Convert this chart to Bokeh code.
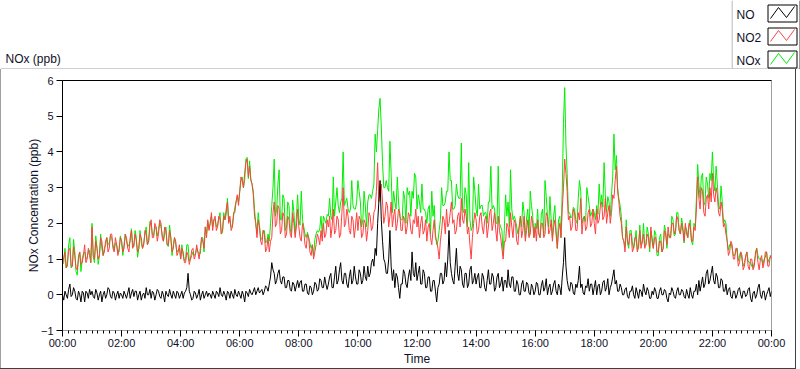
from bokeh.plotting import figure
from bokeh.models import FixedTicker, LinearAxis, Range1d, Spacer
from bokeh.layouts import row, column
from bokeh.core.properties import value
from bokeh.embed import file_html
from bokeh.resources import INLINE

# ---------------- data (2.5-minute readings, 00:00 .. 24:00) ----------------
STEP_MIN = 2.5

NO2_PPB = [
    0.85, 1.05, 1.2, 0.75, 0.9, 1.25, 1.3, 0.8, 0.8, 1.35, 1.1, 0.75, 0.7, 1.0, 1.2, 0.85, 0.9, 1.1, 1.4, 0.9, 1.0, 1.3, 1.1, 0.9,
    1.9, 1.1, 1.0, 1.5, 1.3, 1.0, 1.1, 1.6, 1.5, 1.1, 1.2, 1.5, 1.6, 1.2, 1.3, 1.7, 1.7, 1.3, 1.2, 1.6, 1.4, 1.1, 1.3, 1.6,
    1.5, 1.2, 1.3, 1.7, 1.6, 1.3, 1.2, 1.6, 1.8, 1.3, 1.4, 1.7, 1.5, 1.2, 1.3, 1.7, 1.6, 1.3, 1.4, 1.8, 1.7, 1.4, 1.5, 1.9,
    2.1, 1.6, 1.6, 2.0, 1.9, 1.5, 1.7, 2.1, 2.0, 1.6, 1.5, 1.9, 1.8, 1.4, 1.4, 1.8, 1.6, 1.2, 1.3, 1.6, 1.5, 1.1, 1.2, 1.4,
    1.0, 1.3, 1.2, 0.9, 0.9, 1.2, 1.1, 0.85, 1.0, 1.25, 1.3, 1.0, 1.1, 1.4, 1.2, 1.0, 1.3, 1.6, 1.5, 1.3, 1.9, 1.6, 2.1, 1.8,
    2.0, 2.3, 1.8, 2.1, 2.2, 1.8, 1.9, 2.2, 2.1, 1.7, 1.8, 2.2, 2.1, 2.4, 2.6, 2.0, 2.2, 1.8, 1.9, 2.3, 2.3, 2.6, 2.8, 2.5,
    2.9, 3.3, 3.2, 3.0, 3.4, 3.7, 3.8, 3.3, 3.6, 3.2, 3.1, 2.8, 2.2, 2.0, 1.6, 2.1, 1.9, 1.5, 1.4, 1.8, 1.7, 1.2, 1.3, 1.6,
    1.2, 1.5, 1.6, 2.3, 2.6, 1.9, 2.0, 2.5, 2.4, 1.7, 1.8, 2.3, 2.2, 1.6, 1.7, 2.2, 2.1, 1.7, 1.6, 2.3, 2.0, 1.6, 1.9, 2.4,
    1.9, 1.6, 1.5, 2.0, 1.8, 1.4, 1.3, 1.7, 1.6, 1.2, 1.1, 1.4, 1.0, 1.2, 1.4, 1.7, 1.6, 1.4, 1.8, 1.5, 2.0, 1.6, 1.7, 2.1,
    1.9, 2.2, 1.6, 1.9, 2.4, 1.7, 1.8, 2.2, 2.1, 1.6, 1.7, 2.3, 3.0, 1.9, 2.0, 2.4, 2.2, 1.8, 1.7, 2.2, 2.1, 1.6, 1.9, 2.3,
    1.8, 2.2, 2.1, 1.6, 1.7, 2.1, 2.0, 1.5, 1.8, 2.3, 2.2, 1.8, 1.9, 2.3, 2.4, 2.9, 3.7, 2.6, 2.9, 3.1, 2.6, 2.0, 2.2, 2.6,
    2.5, 1.9, 2.2, 2.6, 1.9, 2.2, 2.4, 1.8, 2.0, 2.4, 2.3, 1.8, 1.8, 2.2, 2.1, 1.7, 1.9, 2.3, 2.2, 1.8, 1.7, 2.1, 2.0, 2.4,
    1.9, 2.2, 1.6, 2.0, 2.2, 1.7, 1.8, 2.1, 1.5, 1.9, 2.0, 1.6, 1.4, 1.8, 2.1, 1.6, 1.5, 1.3, 1.0, 1.5, 1.8, 2.2, 2.1, 1.7,
    2.4, 1.9, 2.0, 2.3, 2.6, 2.0, 2.1, 1.7, 1.8, 2.2, 2.3, 1.9, 2.7, 2.1, 2.0, 2.4, 2.2, 1.7, 1.9, 1.4, 1.0, 1.6, 2.0, 2.3,
    2.1, 1.7, 1.8, 2.2, 2.3, 1.9, 1.7, 2.1, 2.2, 1.6, 1.9, 2.3, 2.4, 1.8, 2.0, 2.3, 1.8, 1.5, 2.2, 1.8, 1.6, 1.3, 1.0, 1.5,
    1.5, 2.0, 1.9, 1.6, 2.3, 1.9, 1.6, 2.1, 2.0, 1.5, 1.4, 1.9, 2.2, 1.6, 1.8, 2.2, 1.5, 1.8, 2.1, 1.6, 1.7, 2.2, 2.0, 1.6,
    1.9, 1.5, 2.1, 1.7, 1.6, 2.0, 2.0, 1.6, 1.7, 2.3, 2.2, 1.7, 1.8, 2.1, 1.5, 1.9, 2.1, 1.7, 1.3, 1.8, 2.0, 1.6, 2.4, 3.0,
    3.8, 3.4, 2.9, 2.1, 2.2, 1.8, 1.9, 2.4, 2.3, 1.8, 1.8, 2.3, 2.1, 2.7, 1.7, 2.1, 2.2, 1.8, 1.9, 2.3, 2.4, 1.9, 2.0, 2.4,
    2.0, 1.7, 2.4, 2.0, 2.1, 2.5, 2.6, 2.1, 2.2, 2.7, 2.0, 2.3, 2.5, 2.0, 2.3, 2.8, 2.7, 3.2, 3.6, 2.9, 2.6, 2.2, 2.0, 1.6,
    1.5, 1.2, 1.9, 1.5, 1.4, 1.7, 1.7, 1.2, 1.3, 1.6, 1.6, 1.2, 1.4, 1.8, 1.3, 1.5, 1.7, 1.3, 1.4, 1.7, 1.6, 1.3, 1.9, 1.5,
    1.3, 1.6, 1.6, 1.2, 1.2, 1.5, 1.5, 1.2, 1.3, 1.8, 1.7, 1.4, 1.9, 1.6, 1.6, 2.0, 2.0, 1.7, 1.8, 2.2, 2.1, 1.8, 1.7, 2.0,
    1.8, 1.5, 2.0, 1.7, 1.6, 2.0, 1.9, 1.5, 1.5, 1.9, 1.8, 2.4, 3.3, 2.7, 2.4, 3.0, 2.9, 2.3, 2.2, 2.7, 2.8, 2.4, 3.0, 2.6,
    3.4, 2.8, 2.6, 3.0, 2.8, 2.3, 2.2, 2.6, 2.4, 1.9, 2.0, 1.7, 1.5, 1.1, 1.2, 1.5, 1.4, 1.0, 1.0, 1.3, 1.3, 0.8, 0.9, 1.2,
    1.1, 0.7, 0.8, 1.1, 1.2, 0.8, 0.7, 1.0, 1.0, 0.7, 0.8, 1.2, 1.3, 0.9, 0.7, 1.0, 1.1, 0.75, 0.9, 1.2, 1.2, 0.8, 0.8, 1.1,
    1.0,
]

NO_PPB = [
    0.0, -0.15, 0.1, 0.0, -0.1, 0.15, 0.3, -0.05, 0.0, 0.2, 0.1, -0.1, -0.15, 0.1, 0.0, -0.2, 0.1, 0.05, -0.2, 0.1, 0.05, -0.1, 0.15, 0.0,
    0.1, -0.05, -0.1, 0.15, 0.05, -0.15, 0.0, 0.1, -0.2, 0.0, 0.1, -0.1, 0.0, 0.2, 0.15, -0.05, -0.1, 0.1, 0.05, -0.15, 0.0, 0.1, -0.1, 0.05,
    0.0, -0.1, 0.1, 0.0, -0.1, 0.05, 0.2, -0.1, 0.05, 0.15, -0.05, 0.1, 0.1, -0.15, 0.0, 0.1, -0.15, 0.0, 0.05, -0.1, 0.2, 0.0, 0.0, 0.15,
    -0.1, 0.1, 0.05, -0.15, 0.0, 0.15, 0.1, -0.05, -0.1, 0.1, 0.0, -0.2, 0.1, 0.0, -0.05, 0.15, 0.0, -0.1, 0.1, 0.0, -0.1, 0.1, 0.05, -0.1,
    0.0, 0.1, -0.1, 0.05, 0.1, 0.2, 0.6, 0.1, 0.0, -0.15, -0.1, 0.1, 0.05, -0.1, 0.0, 0.15, -0.15, 0.0, 0.1, -0.1, 0.0, 0.1, -0.05, 0.05,
    0.0, -0.1, 0.1, 0.0, -0.1, 0.1, 0.05, -0.05, 0.2, 0.0, -0.05, 0.1, 0.0, -0.15, 0.1, 0.05, -0.1, 0.1, 0.0, -0.1, 0.15, 0.0, -0.05, 0.1,
    0.0, -0.1, 0.1, 0.0, -0.2, 0.1, 0.05, -0.05, 0.15, 0.05, 0.0, 0.1, 0.2, 0.0, 0.1, 0.2, 0.05, 0.1, 0.15, 0.0, 0.1, 0.25, 0.2, 0.1,
    0.3, 0.5, 0.9, 0.7, 0.6, 0.3, 0.4, 0.6, 0.7, 0.4, 0.3, 0.5, 0.5, 0.2, 0.2, 0.4, 0.4, 0.15, 0.1, 0.35, 0.3, 0.1, 0.25, 0.4,
    0.2, 0.35, 0.4, 0.1, 0.1, 0.3, 0.3, 0.05, 0.0, 0.25, 0.2, 0.0, 0.1, 0.35, 0.3, 0.1, 0.15, 0.45, 0.4, 0.2, 0.2, 0.5, 0.3, 0.15,
    0.3, 0.5, 0.6, 0.2, 0.2, 0.5, 0.8, 0.3, 0.4, 0.7, 0.9, 0.4, 0.3, 0.6, 0.6, 0.3, 0.2, 0.5, 0.7, 0.3, 0.4, 0.8, 0.5, 0.3,
    0.3, 0.7, 0.6, 0.3, 0.4, 0.8, 0.5, 0.4, 0.8, 0.5, 0.6, 0.9, 1.0, 0.8, 1.3, 1.1, 2.0, 2.6, 3.2, 2.1, 1.5, 1.0, 0.9, 0.6,
    0.6, 1.0, 1.8, 0.8, 0.4, 0.7, 0.2, 0.6, 0.5, 0.2, -0.1, 0.3, 0.3, 0.7, 0.6, 0.3, 0.2, 0.5, 0.7, 0.4, 1.2, 0.6, 0.5, 0.9,
    0.4, 0.6, 0.8, 0.3, 0.3, 0.7, 0.6, 0.2, 0.2, 0.5, 0.5, 0.1, 0.1, 0.4, 0.4, 0.1, -0.2, 0.2, 0.3, 0.6, 0.6, 0.3, 0.4, 0.9,
    0.5, 1.0, 1.8, 0.9, 0.6, 0.4, 0.3, 0.8, 1.3, 0.6, 0.4, 0.8, 0.7, 0.3, 0.2, 0.6, 0.6, 0.2, 0.3, 0.7, 0.8, 0.3, 0.4, 0.6,
    0.3, 0.5, 0.6, 0.2, 0.2, 0.6, 0.5, 0.2, 0.1, 0.4, 0.7, 0.3, 0.3, 0.6, 0.5, 0.1, 0.2, 0.5, 0.6, 0.2, 0.3, 0.5, 0.1, 0.4,
    0.4, 0.2, 0.7, 0.3, 0.2, 0.5, 0.5, 0.1, 0.1, 0.4, 0.3, 0.0, 0.0, 0.3, 0.4, 0.1, 0.1, 0.35, 0.3, 0.05, 0.0, 0.3, 0.2, 0.0,
    0.1, 0.35, 0.3, 0.0, 0.0, 0.25, 0.4, 0.1, 0.2, 0.45, 0.0, 0.2, 0.3, 0.0, 0.1, 0.3, 0.4, 0.1, 0.0, 0.3, 0.2, 0.0, 0.5, 0.9,
    1.6, 0.8, 0.4, 0.2, 0.1, 0.35, 0.3, 0.05, 0.0, 0.3, 0.2, 0.4, 0.8, 0.2, 0.3, 0.05, 0.0, 0.25, 0.2, 0.45, 0.1, 0.3, 0.3, 0.0,
    0.2, 0.4, 0.0, 0.25, 0.3, 0.0, 0.1, 0.35, 0.4, 0.1, 0.2, 0.45, 0.0, 0.2, 0.3, 0.5, 0.7, 0.3, 0.4, 0.1, 0.1, 0.3, 0.2, 0.0,
    0.0, 0.15, 0.2, -0.05, -0.1, 0.1, 0.1, 0.25, 0.0, -0.1, 0.2, 0.05, -0.1, 0.15, 0.1, -0.05, 0.3, 0.1, 0.0, 0.2, 0.1, -0.1, -0.1, 0.1,
    0.0, 0.2, 0.1, -0.1, -0.1, 0.1, 0.2, 0.0, 0.0, 0.15, 0.1, -0.1, -0.2, 0.05, 0.0, 0.2, 0.1, -0.05, -0.1, 0.1, 0.2, 0.0, 0.0, 0.15,
    0.1, -0.05, -0.1, 0.15, 0.0, -0.1, 0.2, 0.0, -0.1, 0.1, 0.1, 0.3, 0.0, 0.4, 0.1, 0.3, 0.5, 0.2, 0.3, 0.6, 0.7, 0.3, 0.4, 0.6,
    0.8, 0.4, 0.3, 0.6, 0.5, 0.2, 0.2, 0.45, 0.4, 0.1, 0.1, 0.3, 0.0, 0.15, 0.2, -0.05, -0.1, 0.1, 0.1, -0.1, 0.0, 0.15, 0.2, 0.0,
    -0.1, 0.1, 0.1, -0.05, 0.0, 0.15, 0.2, -0.1, -0.2, 0.05, 0.1, -0.1, 0.0, 0.2, 0.3, 0.0, -0.1, 0.1, 0.1, -0.15, 0.0, 0.1, 0.2, -0.05,
    0.1,
]

NOX_PPB = [
    0.85, 0.9, 1.3, 0.75, 0.8, 1.4, 1.6, 0.75, 0.8, 1.55, 1.2, 0.65, 0.55, 1.1, 1.2, 0.65, 1.0, 1.15, 1.2, 1.0, 1.05, 1.2, 1.25, 0.9,
    2.0, 1.05, 0.9, 1.65, 1.35, 0.85, 1.1, 1.7, 1.3, 1.1, 1.3, 1.4, 1.6, 1.4, 1.45, 1.65, 1.6, 1.4, 1.25, 1.45, 1.4, 1.2, 1.2, 1.65,
    1.5, 1.1, 1.4, 1.7, 1.5, 1.35, 1.4, 1.5, 1.85, 1.45, 1.35, 1.8, 1.6, 1.05, 1.3, 1.8, 1.45, 1.3, 1.45, 1.7, 1.9, 1.4, 1.5, 2.05,
    2.0, 1.7, 1.65, 1.85, 1.9, 1.65, 1.8, 2.05, 1.9, 1.7, 1.5, 1.7, 1.9, 1.4, 1.35, 1.95, 1.6, 1.1, 1.4, 1.6, 1.4, 1.2, 1.25, 1.3,
    1.0, 1.4, 1.1, 0.95, 1.0, 1.4, 1.4, 0.95, 1.0, 1.1, 1.2, 1.1, 1.15, 1.3, 1.2, 1.15, 1.15, 1.6, 1.6, 1.2, 1.9, 1.7, 2.05, 1.85,
    2.0, 2.2, 1.9, 2.1, 2.1, 1.9, 1.95, 2.15, 2.3, 1.7, 1.75, 2.3, 2.1, 2.25, 2.7, 2.05, 2.1, 1.9, 1.9, 2.2, 2.45, 2.6, 2.75, 2.6,
    2.9, 3.2, 3.3, 3.0, 3.2, 3.8, 3.85, 3.25, 3.75, 3.25, 3.1, 2.9, 2.4, 2.0, 1.7, 2.3, 1.95, 1.6, 1.55, 1.8, 1.8, 1.45, 1.5, 1.7,
    1.5, 2.0, 2.5, 3.0, 3.8, 2.2, 2.4, 3.1, 3.5, 2.1, 2.1, 2.8, 2.7, 1.8, 1.9, 2.6, 2.5, 1.85, 1.7, 2.65, 2.3, 1.7, 2.15, 2.8,
    2.1, 1.95, 2.9, 2.1, 1.9, 1.7, 1.6, 1.75, 1.6, 1.45, 1.3, 1.4, 1.1, 1.55, 1.7, 1.8, 1.75, 1.85, 2.2, 1.7, 2.2, 2.1, 2.0, 2.25,
    2.2, 2.7, 2.2, 2.1, 3.3, 2.2, 2.6, 3.0, 2.5, 2.3, 2.6, 2.7, 4.0, 2.5, 2.6, 2.7, 2.4, 2.3, 2.4, 3.2, 2.5, 2.4, 2.4, 2.6,
    3.2, 2.9, 2.6, 1.9, 2.1, 2.9, 2.5, 1.9, 2.6, 2.8, 2.8, 2.7, 2.9, 3.1, 4.5, 4.0, 4.6, 5.2, 5.5, 4.7, 3.7, 3.0, 3.0, 3.2,
    3.0, 2.9, 4.3, 3.4, 2.3, 2.9, 2.6, 2.4, 3.3, 2.6, 2.2, 2.1, 2.1, 2.9, 2.7, 2.0, 3.0, 2.8, 2.9, 2.2, 2.9, 2.7, 3.4, 3.3,
    2.4, 2.8, 2.6, 2.3, 3.1, 2.4, 2.4, 2.3, 2.0, 2.4, 2.5, 1.7, 2.9, 2.2, 2.5, 1.7, 1.4, 1.5, 1.8, 2.1, 3.0, 2.5, 2.5, 2.6,
    2.9, 2.9, 4.0, 3.2, 3.2, 2.4, 2.4, 2.5, 3.1, 2.8, 2.7, 2.7, 4.25, 2.4, 2.3, 3.0, 2.8, 1.9, 3.7, 2.1, 1.8, 1.9, 3.3, 2.9,
    2.4, 2.2, 3.1, 2.4, 2.5, 2.5, 2.2, 2.3, 2.3, 2.0, 2.6, 2.6, 3.6, 2.4, 2.5, 2.4, 2.0, 2.0, 3.6, 2.0, 1.9, 1.8, 1.1, 1.9,
    2.8, 2.2, 2.6, 1.9, 3.5, 2.4, 2.1, 2.2, 2.1, 1.9, 1.7, 1.9, 2.2, 1.9, 2.6, 2.3, 1.6, 2.15, 2.4, 1.65, 2.9, 2.5, 2.2, 1.6,
    2.0, 1.85, 2.4, 1.7, 1.6, 2.25, 2.4, 1.7, 3.2, 2.75, 2.2, 1.9, 2.75, 2.1, 1.6, 2.2, 2.5, 1.8, 1.3, 2.1, 2.2, 1.6, 2.9, 4.8,
    5.8, 4.2, 3.4, 2.3, 2.3, 2.15, 2.2, 2.45, 2.4, 2.1, 2.0, 2.7, 3.2, 2.9, 2.0, 2.15, 2.2, 2.05, 3.0, 2.75, 2.5, 2.2, 2.3, 2.4,
    2.3, 2.1, 2.5, 2.25, 3.1, 2.5, 2.8, 2.45, 3.7, 2.8, 2.3, 2.75, 2.6, 2.2, 2.8, 3.3, 4.5, 3.5, 3.9, 3.0, 2.7, 2.5, 2.2, 1.6,
    1.5, 1.35, 2.1, 1.45, 1.3, 1.8, 1.8, 1.45, 1.3, 1.5, 1.8, 1.25, 1.3, 1.95, 1.4, 1.45, 2.0, 1.4, 1.4, 1.9, 1.7, 1.2, 1.8, 1.6,
    1.3, 1.8, 1.7, 1.1, 1.1, 1.6, 1.7, 1.2, 1.3, 1.95, 1.8, 1.3, 1.7, 1.65, 1.6, 2.2, 2.1, 1.65, 1.7, 2.3, 2.3, 1.8, 1.7, 2.15,
    1.9, 1.45, 1.9, 1.85, 1.6, 1.9, 2.1, 1.5, 1.4, 2.0, 1.9, 2.7, 3.65, 3.1, 2.7, 3.3, 3.4, 2.5, 2.6, 3.3, 3.1, 2.7, 3.4, 3.2,
    4.0, 3.2, 2.9, 3.6, 3.1, 2.5, 2.4, 3.05, 2.6, 2.0, 2.1, 2.0, 1.5, 1.25, 1.4, 1.45, 1.3, 1.1, 1.1, 1.2, 1.3, 0.95, 1.1, 1.2,
    1.0, 0.8, 0.9, 1.05, 1.2, 0.95, 0.9, 0.9, 0.8, 0.75, 0.9, 1.1, 1.3, 1.1, 1.0, 1.0, 1.0, 0.85, 1.0, 1.05, 1.2, 0.9, 1.0, 1.05,
    1.1,
]

X_TICKS = [0, 2, 4, 6, 8, 10, 12, 14, 16, 18, 20, 22, 24]
X_LABELS = ["00:00", "02:00", "04:00", "06:00", "08:00", "10:00", "12:00",
            "14:00", "16:00", "18:00", "20:00", "22:00", "00:00"]
Y_TICKS = [-1, 0, 1, 2, 3, 4, 5, 6]
SERIES_NAMES = ["NO", "NO2", "NOx"]
SERIES_COLORS = ["#000000", "#ff4040", "#00ee00"]
CHART_TITLE = "NOx (ppb)"
Y_TITLE = "NOx Concentration (ppb)"
X_TITLE = "Time"


def hours_for(series):
    return [i * STEP_MIN / 60.0 for i in range(len(series))]


# ---------------- styling ----------------
FONT = "Liberation Sans"
TXT = "#101028"
LIGHT = "#a0a0a0"
DARK = "#404040"
X0, X1 = X_TICKS[0], X_TICKS[-1]
Y0, Y1 = Y_TICKS[0], Y_TICKS[-1]


def pixel_fig(x0, x1, h):
    """A small figure whose frame fills its whole canvas, in pixel units."""
    f = figure(width=x1 - x0, height=h, output_backend="svg", toolbar_location=None,
               x_range=Range1d(x0, x1), y_range=Range1d(h, 0),
               x_axis_location=None, y_axis_location=None, min_border=0,
               background_fill_color="white", border_fill_color="white")
    f.grid.visible = False
    f.outline_line_color = None
    return f


# ---- top-left strip: chart title
head = pixel_fig(0, 731, 69)
head.text(x=[5], y=[58], text=[CHART_TITLE], text_font=value(FONT),
          text_font_size="12px", text_color=TXT, text_baseline="middle")
head.segment(x0=[0], y0=[68.5], x1=[731], y1=[68.5], line_color=LIGHT, line_width=1)

# ---- top-right: legend panel
leg = pixel_fig(731, 800, 69)
leg.segment(x0=[731.5, 731, 799.5], y0=[0, 68.5, 0], x1=[731.5, 800, 799.5],
            y1=[69, 68.5, 69], line_color=[LIGHT, LIGHT, DARK], line_width=1)
for i, (name, color) in enumerate(zip(SERIES_NAMES, SERIES_COLORS)):
    top = 4 + 23 * i
    leg.text(x=[736], y=[top + 10], text=[name], text_font=value(FONT),
             text_font_size="12px", text_color=TXT, text_baseline="middle")
    leg.quad(left=[767.5], right=[796.5], top=[top + 0.5], bottom=[top + 17.5],
             fill_color="white", line_color="black", line_width=1)
    leg.line(x=[770, 778, 786, 794], y=[top + 14, top + 3, top + 13, top + 2],
             line_color=color, line_width=1)

# ---- main chart
MW, MH = 794, 299
FL, FR, FT, FB = 61, 770, 11, 261   # frame edges inside the main figure
p = figure(width=MW, height=MH, output_backend="svg", toolbar_location=None,
           x_range=Range1d(X0, X1), y_range=Range1d(Y0, Y1),
           min_border_left=FL, min_border_right=MW - FR,
           min_border_top=FT, min_border_bottom=MH - FB,
           background_fill_color="white", border_fill_color="white")
p.grid.visible = False
p.outline_line_color = LIGHT
p.outline_line_width = 1

minor = [X0 + k * 0.2 for k in range(int(round((X1 - X0) / 0.2)) + 1)]
xa = p.xaxis[0]
xa.ticker = FixedTicker(ticks=X_TICKS, minor_ticks=minor)
xa.major_label_overrides = {t: l for t, l in zip(X_TICKS, X_LABELS)}
xa.axis_line_color = LIGHT
xa.major_tick_in = 0
xa.major_tick_out = 6
xa.minor_tick_in = 0
xa.minor_tick_out = 3
xa.major_tick_line_color = "black"
xa.minor_tick_line_color = "black"
xa.major_label_standoff = 0
xa.major_label_text_font = FONT
xa.major_label_text_font_size = "11px"
xa.major_label_text_color = TXT
xa.axis_label = X_TITLE
xa.axis_label_standoff = 0
xa.axis_label_text_font = FONT
xa.axis_label_text_font_size = "12px"
xa.axis_label_text_font_style = "normal"
xa.axis_label_text_color = TXT

ya = p.yaxis[0]
ya.ticker = FixedTicker(ticks=Y_TICKS, minor_ticks=[])
ya.axis_line_color = "black"
ya.major_tick_in = 0
ya.major_tick_out = 6
ya.minor_tick_line_color = None
ya.major_tick_line_color = "black"
ya.major_label_standoff = 3
ya.major_label_text_font = FONT
ya.major_label_text_font_size = "11px"
ya.major_label_text_color = TXT
ya.axis_label = Y_TITLE
ya.axis_label_standoff = -3
ya.axis_label_text_font = FONT
ya.axis_label_text_font_size = "12px"
ya.axis_label_text_font_style = "normal"
ya.axis_label_text_color = TXT

top_axis = LinearAxis(ticker=FixedTicker(ticks=[]), axis_line_color="black",
                      major_tick_line_color=None, minor_tick_line_color=None,
                      major_tick_out=0, minor_tick_out=0, major_label_standoff=0,
                      major_label_text_font_size="0px")
p.add_layout(top_axis, "above")

# series: NOx first, NO2 over it, NO on top
for data, color in ((NOX_PPB, SERIES_COLORS[2]), (NO2_PPB, SERIES_COLORS[1]),
                    (NO_PPB, SERIES_COLORS[0])):
    p.line(hours_for(data), data, line_color=color, line_width=1)


def bar(w, h, color):
    return Spacer(width=w, height=h, styles={"background-color": color})


layout = column(
    row(head, leg),
    row(bar(1, MH, LIGHT), p, bar(1, MH, DARK), Spacer(width=4, height=MH)),
    row(bar(796, 1, DARK), Spacer(width=4, height=1)),
)

open("out.html", "w").write(file_html(layout, INLINE))
